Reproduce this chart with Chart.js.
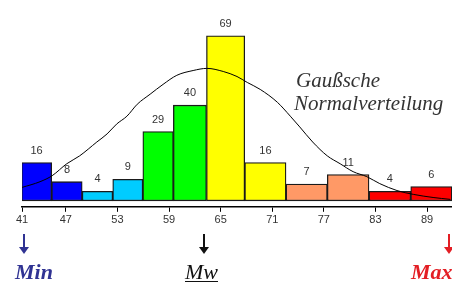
<!DOCTYPE html>
<html>
<head>
<meta charset="utf-8">
<script src="https://cdn.jsdelivr.net/npm/chart.js@4"></script>
<style>
  html, body { margin: 0; padding: 0; background: #fff; }
  #wrap { width: 452px; height: 284px; }
</style>
</head>
<body>
<div id="wrap"><canvas id="chart"></canvas></div>
<script>
// class midpoints (x units) and counts
const binCenters = [43.6, 47.1, 50.7, 54.2, 57.7, 61.3, 65.4, 70.2, 75.0, 79.8, 84.7, 89.5];
const counts = [16, 8, 4, 9, 29, 40, 69, 16, 7, 11, 4, 6];
const barColors = [
  "#0000ff", "#0000ff", "#00ccff", "#00ccff", "#00ff00", "#00ff00",
  "#ffff00", "#ffff00", "#ff9966", "#ff9966", "#ff0000", "#ff0000",
];
const tickLabels = [41, 47, 53, 59, 65, 71, 77, 83, 89];

// gauss curve
const curveX = [41.9, 44.0, 45.4, 47.1, 48.6, 50.6, 51.8, 52.9, 54.1, 55.3, 56.8, 58.3, 59.9, 61.8,
  63.4, 65.3, 66.9, 68.1, 69.6, 71.6, 73.1, 74.2, 75.7, 77.4, 78.9, 80.4, 82.0, 83.5, 85.5, 87.4, 89.7, 91.7];
const curveY = [5.6, 8.0, 10.5, 15.5, 18.8, 24.6, 28.0, 32.1, 35.4, 40.4, 44.6, 48.7, 52.5, 54.5,
  55.4, 54.1, 52.0, 49.5, 46.6, 41.2, 35.4, 30.9, 24.6, 18.8, 15.5, 12.2, 10.1, 7.2, 4.3, 2.7, 1.4, 0.6];

const markerLabels = ["Min", "Mw", "Max"];
const markerValues = [42.1, 63.1, 91.5];
const markerColors = ["#303393", "#111111", "#e31e24"];

const curveTitle = ["Gaußsche", "Normalverteilung"];

const labelsPlugin = {
  id: "labels",
  afterDatasetsDraw(chart) {
    const ctx = chart.ctx;
    const bars = chart.getDatasetMeta(1).data;
    ctx.save();
    ctx.font = "11px 'Liberation Sans', Arial, sans-serif";
    ctx.fillStyle = "#333";
    ctx.textAlign = "center";
    ctx.textBaseline = "middle";
    bars.forEach((bar, i) => {
      ctx.fillText(String(counts[i]), bar.x, bar.y - 12);
    });
    ctx.restore();
  },
  afterDraw(chart) {
    const ctx = chart.ctx;
    const xScale = chart.scales.x;
    ctx.save();

    // Beschriftung der Kurve
    ctx.font = "italic 21px 'Liberation Serif', 'Times New Roman', serif";
    ctx.fillStyle = "#333";
    ctx.textAlign = "left";
    ctx.textBaseline = "alphabetic";
    ctx.fillText(curveTitle[0], 296, 87);
    ctx.fillText(curveTitle[1], 294, 110);

    // Pfeile + Min / Mw / Max
    markerLabels.forEach((label, i) => {
      const x = Math.round(xScale.getPixelForValue(markerValues[i]));
      const color = markerColors[i];
      ctx.strokeStyle = color;
      ctx.fillStyle = color;
      ctx.lineWidth = 2;
      ctx.beginPath();
      ctx.moveTo(x, 234);
      ctx.lineTo(x, 248);
      ctx.stroke();
      ctx.beginPath();
      ctx.moveTo(x - 5, 247);
      ctx.lineTo(x + 5, 247);
      ctx.lineTo(x, 254);
      ctx.closePath();
      ctx.fill();

      let tx;
      if (label === "Min") {
        ctx.font = "bold italic 22px 'Liberation Serif', 'Times New Roman', serif";
        tx = x - 9;
      } else if (label === "Mw") {
        ctx.font = "italic 22px 'Liberation Serif', 'Times New Roman', serif";
        tx = x - 19;
      } else {
        ctx.font = "bold italic 22px 'Liberation Serif', 'Times New Roman', serif";
        tx = x - 38;
      }
      ctx.textAlign = "left";
      ctx.fillText(label, tx, 279);
      if (label === "Mw") {
        const w = ctx.measureText(label).width;
        ctx.lineWidth = 1;
        ctx.beginPath();
        ctx.moveTo(tx, 281.5);
        ctx.lineTo(tx + w, 281.5);
        ctx.stroke();
      }
    });
    ctx.restore();
  },
};

const ctx = document.getElementById("chart").getContext("2d");
new Chart(ctx, {
  type: "bar",
  data: {
    datasets: [
      {
        type: "line",
        order: 0,
        data: curveX.map((x, i) => ({ x: x, y: curveY[i] })),
        borderColor: "#000",
        borderWidth: 1,
        pointRadius: 0,
        fill: false,
        cubicInterpolationMode: "monotone",
      },
      {
        type: "bar",
        order: 1,
        data: binCenters.map((x, i) => ({ x: x, y: counts[i] })),
        backgroundColor: barColors,
        borderColor: "#1a1a1a",
        borderWidth: 1.3,
        borderSkipped: false,
        barThickness: "flex",
        barPercentage: 1,
        categoryPercentage: 1,
      },
    ],
  },
  options: {
    responsive: true,
    maintainAspectRatio: false,
    devicePixelRatio: 1,
    animation: false,
    layout: { padding: { left: 22, right: 0, top: 0, bottom: 55 } },
    plugins: {
      legend: { display: false },
      tooltip: { enabled: false },
    },
    scales: {
      x: {
        type: "linear",
        offset: false,
        min: 41.9,
        max: 91.9,
        afterBuildTicks: (scale) => {
          scale.ticks = tickLabels.map((v) => ({ value: Math.max(v, scale.min) }));
        },
        ticks: {
          autoSkip: false,
          maxRotation: 0,
          padding: 2,
          color: "#333",
          font: { family: "'Liberation Sans', Arial, sans-serif", size: 11 },
          callback: (value, index) => tickLabels[index],
        },
        grid: {
          offset: false,
          drawOnChartArea: false,
          drawTicks: true,
          tickLength: 5,
          tickColor: "#000",
          tickWidth: 1,
        },
        border: { display: true, color: "#000", width: 1.5 },
      },
      y: {
        display: false,
        min: -2.5,
        max: 84,
      },
    },
  },
  plugins: [labelsPlugin],
});
</script>
</body>
</html>
